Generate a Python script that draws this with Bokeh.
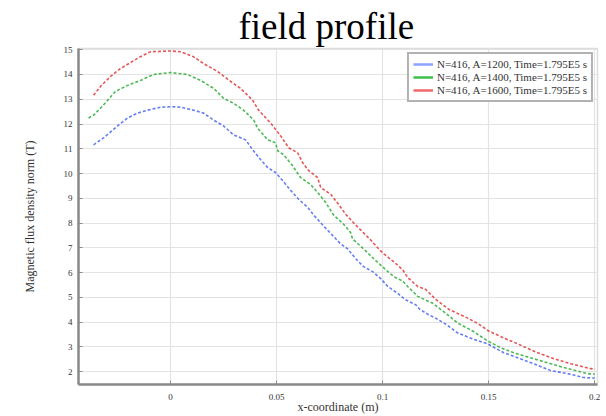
from bokeh.plotting import figure
from bokeh.models import ColumnDataSource, Legend, LegendItem, Range1d, FixedTicker
from bokeh.embed import file_html
from bokeh.resources import INLINE

# ---- data ----
x_blue = [-0.0363, -0.0316, -0.0245, -0.0203, -0.0156, -0.0108, -0.0047, 0.0, 0.0047, 0.0108, 0.0156,
          0.0203, 0.0250, 0.0297, 0.0354, 0.0387, 0.0425, 0.0458, 0.0495, 0.0528, 0.0566, 0.0604,
          0.0646, 0.0675, 0.0722, 0.0755, 0.0802, 0.0835, 0.0873, 0.0910, 0.0953, 0.0991, 0.1024,
          0.1071, 0.1108, 0.1156, 0.1175, 0.1212, 0.1250, 0.1297, 0.1354, 0.1425, 0.1495, 0.1571,
          0.1637, 0.1712, 0.1792, 0.1873, 0.1948, 0.2000]
y_blue = [11.16, 11.44, 11.96, 12.24, 12.44, 12.56, 12.68, 12.70, 12.68, 12.56, 12.44,
          12.16, 11.92, 11.56, 11.36, 10.96, 10.56, 10.24, 10.04, 9.72, 9.32, 8.96,
          8.64, 8.32, 7.88, 7.58, 7.16, 6.96, 6.56, 6.24, 6.04, 5.76, 5.44,
          5.16, 4.90, 4.70, 4.52, 4.32, 4.16, 3.92, 3.56, 3.32, 3.12, 2.76,
          2.56, 2.32, 2.04, 1.92, 1.76, 1.74]

x_green = [-0.0387, -0.0363, -0.0321, -0.0259, -0.0203, -0.0142, -0.0080, 0.0, 0.0080, 0.0142,
           0.0203, 0.0250, 0.0297, 0.0344, 0.0392, 0.0410, 0.0458, 0.0495, 0.0505, 0.0533, 0.0575,
           0.0613, 0.0660, 0.0693, 0.0731, 0.0769, 0.0811, 0.0849, 0.0858, 0.0910, 0.0958, 0.1014,
           0.1052, 0.1094, 0.1118, 0.1165, 0.1236, 0.1297, 0.1354, 0.1425, 0.1495, 0.1557, 0.1618,
           0.1712, 0.1792, 0.1873, 0.1967, 0.2000]
y_green = [12.24, 12.36, 12.72, 13.32, 13.56, 13.76, 14.00, 14.08, 14.00, 13.76,
           13.44, 13.04, 12.84, 12.56, 12.16, 11.84, 11.36, 11.24, 10.92, 10.76, 10.32,
           9.84, 9.56, 9.24, 8.84, 8.32, 8.00, 7.62, 7.36, 6.96, 6.56, 6.12,
           5.84, 5.66, 5.44, 5.04, 4.76, 4.36, 3.96, 3.64, 3.24, 2.96, 2.76,
           2.52, 2.32, 2.12, 1.92, 1.90]

x_red = [-0.0363, -0.0330, -0.0283, -0.0236, -0.0189, -0.0142, -0.0094, 0.0, 0.0047, 0.0108,
         0.0156, 0.0222, 0.0283, 0.0330, 0.0387, 0.0415, 0.0472, 0.0519, 0.0557, 0.0599, 0.0623,
         0.0651, 0.0693, 0.0708, 0.0755, 0.0792, 0.0825, 0.0873, 0.0906, 0.0943, 0.0981, 0.1005,
         0.1052, 0.1094, 0.1118, 0.1165, 0.1203, 0.1250, 0.1311, 0.1401, 0.1453, 0.1500, 0.1571,
         0.1637, 0.1731, 0.1807, 0.1887, 0.1981, 0.2000]
y_red = [13.16, 13.52, 13.92, 14.24, 14.48, 14.72, 14.92, 14.95, 14.92, 14.72,
         14.44, 14.12, 13.72, 13.44, 12.96, 12.56, 12.04, 11.52, 11.04, 10.84, 10.44,
         10.12, 9.84, 9.44, 9.16, 8.76, 8.36, 7.92, 7.64, 7.32, 6.96, 6.76,
         6.44, 6.12, 5.80, 5.44, 5.32, 4.92, 4.52, 4.16, 3.92, 3.64, 3.36,
         3.12, 2.76, 2.52, 2.32, 2.12, 2.10]

labels = ["N=416, A=1200, Time=1.795E5 s",
          "N=416, A=1400, Time=1.795E5 s",
          "N=416, A=1600, Time=1.795E5 s"]
x_ticks = [0, 0.05, 0.1, 0.15, 0.2]
x_tick_labels = ["0", "0.05", "0.1", "0.15", "0.2"]
y_ticks = list(range(2, 16))

colors = ["#4a68f0", "#2fae3a", "#e03a3a"]
legend_colors = ["#8da2ff", "#3cbf4a", "#f06a6a"]
serif = "Liberation Serif"

p = figure(width=606, height=416, output_backend="svg", toolbar_location=None,
           x_range=Range1d(-0.0434, 0.2013), y_range=Range1d(1.48, 15.05),
           min_border_left=78, min_border_right=9, min_border_top=48, min_border_bottom=28,
           title="field profile")

p.title.text_font = serif
p.title.text_font_size = "37px"
p.title.text_font_style = "normal"
p.title.align = "left"
p.title.vertical_align = "top"
p.title.text_color = "#000000"
p.title.offset = 160
p.title.standoff = 0

series = [(x_blue, y_blue), (x_green, y_green), (x_red, y_red)]
items = []
for (xs, ys), c, lc, lab in zip(series, colors, legend_colors, labels):
    src = ColumnDataSource(dict(x=xs, y=ys))
    p.line("x", "y", source=src, line_color=c, line_width=1.6, line_dash="3 2", line_alpha=0.85)
    # one-point line: draws nothing in the plot, gives a solid swatch in the legend
    dummy_src = ColumnDataSource(dict(x=xs[:1], y=ys[:1]))
    dummy = p.line("x", "y", source=dummy_src, line_color=lc, line_width=2.5)
    items.append(LegendItem(label=lab, renderers=[dummy]))

legend = Legend(items=items, location="top_right",
                label_text_font=serif, label_text_font_size="11px", label_text_color="#333333",
                label_height=10, glyph_height=10, glyph_width=20, spacing=1, padding=4, margin=4,
                border_line_color="#666666", border_line_width=2, background_fill_alpha=1.0,
                label_standoff=4)
p.add_layout(legend, "center")

# axes
p.xaxis.ticker = FixedTicker(ticks=x_ticks)
p.xaxis.major_label_overrides = {t: l for t, l in zip(x_ticks, x_tick_labels)}
p.yaxis.ticker = FixedTicker(ticks=y_ticks)
for ax in (p.xaxis, p.yaxis):
    ax.axis_line_color = "#8a8a8a"
    ax.axis_line_width = 2.5
    ax.major_tick_in = 4
    ax.major_tick_out = 0
    ax.minor_tick_line_color = None
    ax.major_tick_line_color = "#8a8a8a"
    ax.major_label_text_font = serif
    ax.major_label_text_font_size = "9px"
    ax.major_label_text_color = "#333333"
    ax.axis_label_text_font = serif
    ax.axis_label_text_font_size = "12px"
    ax.axis_label_text_font_style = "normal"
    ax.axis_label_text_color = "#333333"

p.xaxis.axis_label = "x-coordinate (m)"
p.xaxis.major_label_standoff = 9
p.xaxis.axis_label_standoff = -3
p.yaxis.axis_label = "Magnetic flux density norm (T)"
p.yaxis.major_label_standoff = 6
p.yaxis.axis_label_standoff = 24

p.xgrid.grid_line_color = "#e3e3e3"
p.ygrid.grid_line_color = "#e3e3e3"
p.xgrid.grid_line_width = 1.2
p.ygrid.grid_line_width = 1.2

p.outline_line_color = "#dddddd"
p.outline_line_width = 1.5
p.background_fill_color = "white"
p.border_fill_color = "white"

open("out.html", "w").write(file_html(p, INLINE))
